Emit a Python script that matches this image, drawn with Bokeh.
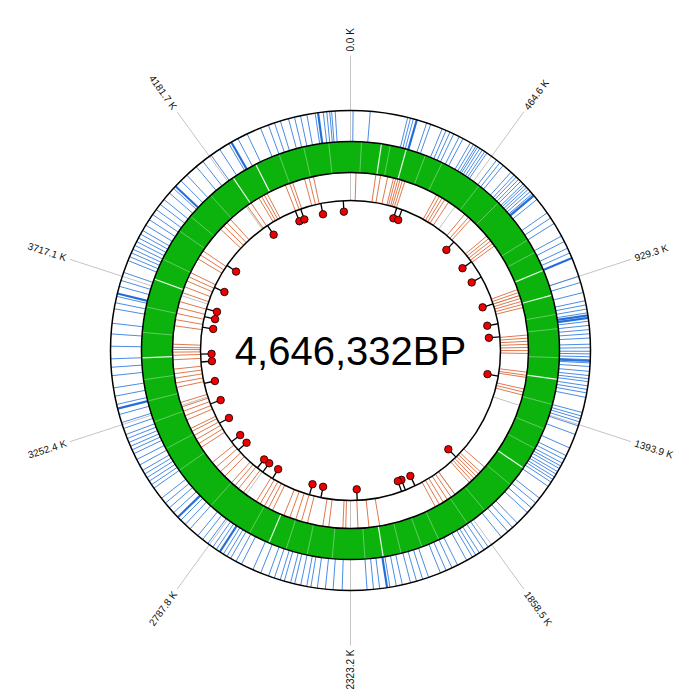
import numpy as np
from bokeh.plotting import figure
from bokeh.core.properties import value
from bokeh.embed import file_html
from bokeh.resources import INLINE

# ---------------- data (positions in kb on a 4,646,332 bp genome) ----------------
GENOME_BP = 4646332
title_text = "4,646,332BP"

tick_kb = [0.0, 464.6, 929.3, 1393.9, 1858.5, 2323.2, 2787.8, 3252.4, 3717.1, 4181.7]
tick_labels = ["0.0 K", "464.6 K", "929.3 K", "1393.9 K", "1858.5 K",
               "2323.2 K", "2787.8 K", "3252.4 K", "3717.1 K", "4181.7 K"]

# outer ring (blue features)
blue_kb = [8, 61, 178, 187, 196, 207, 239, 252, 290, 303, 316, 329, 348, 361, 387, 398,
           407, 413, 421, 430, 439, 447, 484, 497, 510, 542, 555, 564, 574, 583, 594, 601,
           609, 617, 626, 635, 645, 658, 710, 729, 749, 794, 813, 836, 852, 869, 929, 949,
           981, 1007, 1020, 1033, 1045, 1053, 1061, 1071, 1084, 1097, 1110, 1123, 1142, 1153,
           1164, 1172, 1181, 1190, 1200, 1211, 1226, 1239, 1249, 1258, 1271, 1282, 1293, 1307,
           1355, 1366, 1375, 1385, 1398, 1426, 1471, 1497, 1510, 1523, 1533, 1542, 1553, 1562,
           1572, 1581, 1591, 1607, 1652, 1671, 1691, 1710, 1755, 1775, 1794, 1820, 1871, 1887,
           1904, 1917, 1929, 1949, 1981, 2000, 2020, 2039, 2078, 2097, 2117, 2136, 2162, 2181,
           2201, 2210, 2233, 2252, 2272, 2349, 2377, 2401, 2426, 2446, 2459, 2478, 2497, 2510,
           2530, 2543, 2562, 2581, 2607, 2633, 2672, 2691, 2710, 2723, 2736, 2749, 2762, 2775,
           2794, 2814, 2833, 2865, 2885, 2904, 2917, 2936, 2956, 2975, 2994, 3033, 3046, 3059,
           3072, 3085, 3098, 3117, 3136, 3156, 3169, 3181, 3194, 3207, 3220, 3240, 3259, 3285,
           3304, 3317, 3343, 3369, 3407, 3433, 3459, 3498, 3536, 3569, 3614, 3633, 3653, 3662,
           3685, 3704, 3730, 3769, 3782, 3795, 3807, 3820, 3833, 3846, 3859, 3872, 3891, 3911,
           3930, 3949, 3969, 3988, 4014, 4033, 4042, 4066, 4091, 4130, 4156, 4188, 4220, 4253,
           4262, 4285, 4317, 4362, 4388, 4408, 4427, 4453, 4472, 4491, 4511, 4537, 4546, 4562,
           4573, 4582, 4588, 4599]
blue_wide_kb = [207, 642, 869, 1053, 1061, 1194, 2210, 2749, 2917, 3304, 3662, 4042, 4262, 4546]

# middle ring (green features) - gaps between features
green_gap_kb = [110, 200, 870, 963, 1264, 1603, 2207, 2620, 3459, 3743, 4205, 4298]
green_faint_kb = [39, 142, 271, 336, 490, 581, 749, 800, 1033, 1084, 1187, 1355, 1446, 1523,
                  1678, 1807, 1884, 2000, 2065, 2142, 2272, 2388, 2478, 2555, 2697, 2865,
                  3033, 3123, 3227, 3304, 3381, 3549, 3640, 3820, 3936, 4001, 4104, 4388,
                  4479, 4569]

# inner ring (orange features)
orange_kb = [23, 106, 126, 156, 181, 190, 200, 209, 219, 230, 374, 387, 400, 413, 432, 516,
             536, 549, 645, 658, 671, 684, 697, 903, 916, 929, 942, 955, 968, 981, 1097, 1110,
             1123, 1136, 1149, 1162, 1174, 1252, 1265, 1274, 1323, 1336, 1349, 1691, 1717,
             1729, 1742, 1755, 1768, 1781, 1859, 1878, 1897, 1917, 1936, 1955, 2201, 2246,
             2292, 2343, 2355, 2414, 2439, 2504, 2530, 2555, 2581, 2607, 2659, 2678, 2697,
             2717, 2736, 2801, 2827, 2846, 2865, 2904, 2930, 2956, 2981, 3059, 3078, 3098,
             3117, 3136, 3149, 3188, 3207, 3227, 3246, 3265, 3330, 3349, 3369, 3388, 3407,
             3446, 3465, 3478, 3489, 3498, 3511, 3588, 3614, 3640, 3665, 3691, 3730, 3756,
             3782, 3801, 3820, 3885, 3904, 3924, 4040, 4059, 4078, 4098, 4188, 4208, 4246,
             4259, 4272, 4285, 4369, 4388, 4401, 4453, 4472, 4491]

# lollipop markers
lollipop_kb = [232, 259, 563, 693, 783, 928, 1029, 1094, 1288, 1746, 1994, 2046, 2066, 2290,
               2470, 2528, 2728, 2785, 2819, 2948, 3001, 3110, 3215, 3321, 3428, 3467, 3600,
               3653, 3693, 3806, 3931, 4213, 4368, 4396, 4499, 4611]

# ---------------- geometry helpers ----------------
def theta(kb):
    return np.asarray(kb, dtype=float) * 1000.0 / GENOME_BP * 2 * np.pi


def radial(kb, r0, r1):
    t = theta(kb)
    return (r0 * np.sin(t), r0 * np.cos(t), r1 * np.sin(t), r1 * np.cos(t))


R_OUT, R_BLUE_IN, R_GREEN_IN, R_IN = 240, 209, 178, 150

p = figure(width=692, height=692, x_range=(-350, 342), y_range=(-342, 350),
           output_backend="svg", toolbar_location=None, min_border=0,
           x_axis_location=None, y_axis_location=None)
p.grid.visible = False
p.outline_line_color = None
p.background_fill_color = "white"

# tick lines
x0, y0, x1, y1 = radial(tick_kb, R_IN, 295)
p.segment(x0, y0, x1, y1, line_color="#c4c4c4", line_width=1)

# green ring
p.annulus(x=0, y=0, inner_radius=R_GREEN_IN, outer_radius=R_BLUE_IN,
          fill_color="#0db30d", line_color=None)
x0, y0, x1, y1 = radial(green_faint_kb, R_GREEN_IN, R_BLUE_IN)
p.segment(x0, y0, x1, y1, line_color="white", line_width=1, line_alpha=0.35)
x0, y0, x1, y1 = radial(green_gap_kb, R_GREEN_IN, R_BLUE_IN)
p.segment(x0, y0, x1, y1, line_color="white", line_width=1.2, line_alpha=0.9)

# blue ring
x0, y0, x1, y1 = radial(blue_kb, R_BLUE_IN, R_OUT)
p.segment(x0, y0, x1, y1, line_color="#2a78e2", line_width=1, line_alpha=0.85)
x0, y0, x1, y1 = radial(blue_wide_kb, R_BLUE_IN, R_OUT)
p.segment(x0, y0, x1, y1, line_color="#1a66d4", line_width=2.2, line_alpha=0.9)

# orange ring
x0, y0, x1, y1 = radial(orange_kb, R_IN, R_GREEN_IN)
p.segment(x0, y0, x1, y1, line_color="#d9622e", line_width=1, line_alpha=0.85)

# ring outlines
p.circle(x=[0, 0, 0, 0], y=[0, 0, 0, 0], radius=[R_OUT, R_BLUE_IN, R_GREEN_IN, R_IN],
         fill_color=None, line_color="black", line_width=1.5)

# lollipops
x0, y0, x1, y1 = radial(lollipop_kb, R_IN, 140)
p.segment(x0, y0, x1, y1, line_color="black", line_width=1.3)
t = theta(lollipop_kb)
p.scatter(139 * np.sin(t), 139 * np.cos(t), size=7.5, fill_color="#ee0000",
          line_color="black", line_width=0.8)

# tick labels (radial)
tt = theta(tick_kb)
deg = np.degrees(tt)
right = deg <= 180.0
R_LAB = 299
lx = R_LAB * np.sin(tt)
ly = R_LAB * np.cos(tt)
ang_r = np.pi / 2 - tt
p.text(lx[right], ly[right], text=[tick_labels[i] for i in np.where(right)[0]],
       angle=ang_r[right], text_align="left", text_baseline="middle",
       text_font=value("Liberation Sans"), text_font_size="10px", text_color="#111111")
left = ~right
p.text(lx[left], ly[left], text=[tick_labels[i] for i in np.where(left)[0]],
       angle=ang_r[left] + np.pi, text_align="right", text_baseline="middle",
       text_font=value("Liberation Sans"), text_font_size="10px", text_color="#111111")

# centre title
p.text([0], [0], text=[title_text], text_align="center", text_baseline="alphabetic",
       text_font=value("Liberation Sans"), text_font_size="40px", text_color="black")

open("out.html", "w").write(file_html(p, INLINE))
